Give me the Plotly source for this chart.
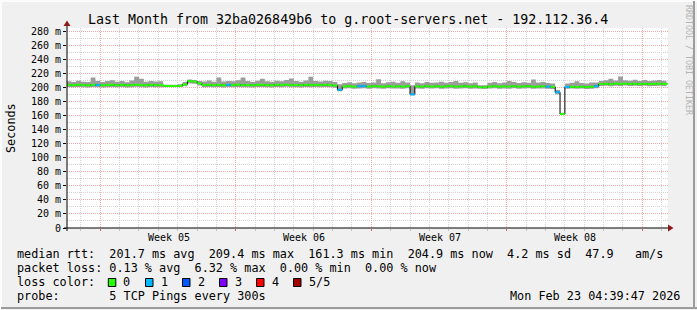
import plotly.graph_objects as go
import pandas as pd

# ---------------- data ----------------
TITLE = "Last Month from 32ba026849b6 to g.root-servers.net - 192.112.36.4"
START_TIME = "2026-01-23 06:00"
STEP_HOURS = 6
X_RANGE = ["2026-01-23 06:45", "2026-02-23 07:51"]

week_bounds = ["2026-01-25", "2026-02-01", "2026-02-08", "2026-02-15", "2026-02-22"]
week_labels = ["Week 05", "Week 06", "Week 07", "Week 08"]
week_label_at = ["2026-01-28 13:00", "2026-02-04 13:00", "2026-02-11 13:00", "2026-02-18 13:00"]

y_tick_vals = [0, 20, 40, 60, 80, 100, 120, 140, 160, 180, 200, 220, 240, 260, 280]
y_tick_text = ["0", "20 m", "40 m", "60 m", "80 m", "100 m", "120 m", "140 m", "160 m",
               "180 m", "200 m", "220 m", "240 m", "260 m", "280 m"]

median_ms = [
    203.4, 203.0, 203.6, 203.1, 202.8, 203.5, 203.2, 202.9, 203.3, 203.6,
    203.0, 203.4, 202.8, 203.1, 203.7, 203.2, 202.9, 203.5, 203.0, 203.3,
    202.0, 201.8, 201.9, 202.1, 204.0, 208.8, 208.2, 205.5,
    203.2, 203.6, 203.0, 203.4, 202.9, 203.5, 203.1, 203.7, 203.0, 203.3,
    202.8, 203.4, 203.6, 203.1, 202.9, 203.5, 203.2, 203.8, 203.0, 203.3,
    202.9, 203.6, 203.1, 203.4, 203.0, 203.5, 203.2,
    202.5, 196.5,
    201.2, 201.6, 201.0, 201.4, 201.8, 201.1, 201.5, 201.3, 200.9, 201.6,
    201.2, 201.4, 201.0, 201.5,
    190.0,
    201.3, 201.0, 201.6, 201.2, 201.5, 200.9, 201.4, 201.7, 201.1, 201.3,
    201.6, 201.0, 201.4,
    200.2, 200.0,
    201.2, 201.5, 200.9, 201.4, 201.1, 201.6, 201.0, 201.3, 201.5, 200.8,
    201.2, 201.4, 201.0, 200.6,
    193.0, 162.0,
    200.4, 200.8, 200.5, 200.9, 200.3, 200.7, 201.5,
    204.6, 205.0, 204.4, 205.2, 204.8, 205.3, 204.6, 205.0, 204.7, 205.1,
    204.5, 204.9, 205.2, 204.7, 204.9,
]

smoke_high = [
    208.5, 207.6, 209.2, 208.0, 207.4, 214.0, 208.8, 207.5, 209.0, 210.2,
    207.8, 208.9, 207.3, 209.5, 215.0, 212.0, 207.9, 209.1, 208.2, 208.7,
    203.8, 203.5, 203.6, 204.2, 207.5, 211.0, 210.5, 209.0,
    208.4, 209.6, 207.9, 214.0, 208.2, 209.0, 208.6, 210.1, 214.0, 208.8,
    207.7, 209.3, 212.0, 208.5, 208.0, 209.4, 208.7, 210.3, 212.5, 208.9,
    207.8, 209.6, 215.0, 209.1, 208.3, 209.4, 208.8,
    207.5, 204.5,
    206.0, 207.2, 205.8, 206.9, 207.5, 206.1, 206.8, 211.5, 205.9, 207.3,
    208.0, 206.6, 208.5, 206.9,
    203.0,
    206.8, 205.9, 207.4, 206.3, 207.0, 207.8, 206.5, 207.6, 209.0, 206.4,
    207.3, 205.8, 206.9,
    203.0, 202.8,
    206.5, 207.4, 205.9, 207.0, 209.0, 207.6, 206.2, 207.1, 206.4, 211.0,
    206.9, 207.5, 206.0, 205.5,
    196.0, 164.0,
    205.5, 206.6, 208.5, 206.0, 205.4, 206.8, 207.0,
    209.0, 210.2, 212.0, 209.5, 215.5, 210.0, 209.3, 210.6, 209.1, 210.4,
    209.0, 209.8, 210.5, 209.2, 209.7,
]

smoke_low = [
    200.3, 199.9, 200.5, 200.1, 199.7, 200.4, 200.1, 199.8, 200.2, 200.6,
    199.9, 200.3, 199.7, 200.0, 200.7, 200.1, 199.8, 200.4, 199.9, 200.2,
    200.8, 200.5, 200.6, 200.9, 201.5, 205.5, 205.0, 202.5,
    200.1, 200.5, 199.9, 200.3, 199.8, 200.4, 200.0, 200.6, 199.9, 200.2,
    199.7, 200.3, 200.5, 200.0, 199.8, 200.4, 200.1, 200.7, 199.9, 200.2,
    199.8, 200.5, 200.0, 200.3, 199.9, 200.4, 200.1,
    199.5, 194.5,
    198.2, 198.6, 198.0, 198.4, 198.8, 198.1, 198.5, 198.3, 197.9, 198.6,
    198.2, 198.4, 198.0, 198.5,
    188.5,
    198.3, 198.0, 198.6, 198.2, 198.5, 197.9, 198.4, 198.7, 198.1, 198.3,
    198.6, 198.0, 198.4,
    197.8, 197.6,
    198.2, 198.5, 197.9, 198.4, 198.1, 198.6, 198.0, 198.3, 198.5, 197.8,
    198.2, 198.4, 198.0, 197.6,
    190.0, 161.3,
    197.8, 198.2, 197.9, 198.3, 197.7, 198.1, 198.8,
    201.8, 202.1, 201.5, 202.3, 201.9, 202.4, 201.7, 202.1, 201.8, 202.2,
    201.6, 202.0, 202.3, 201.8, 202.0,
]

# pings lost out of 5 for each step
loss_count = [0] * len(median_ms)
for idx in [6, 33, 56, 60, 61, 71, 99, 101, 103, 109]:
    loss_count[idx] = 1

loss_labels = ["0", "1", "2", "3", "4", "5/5"]
loss_colors = ["#26ff00", "#00b8ff", "#0059ff", "#7e00ff", "#ff0000", "#a10000"]

stats_lines = [
    "median rtt:  201.7 ms avg  209.4 ms max  161.3 ms min  204.9 ms now  4.2 ms sd  47.9   am/s",
    "packet loss: 0.13 % avg  6.32 % max  0.00 % min  0.00 % now",
    "loss color:",
    "probe:       5 TCP Pings every 300s",
]
timestamp = "Mon Feb 23 04:39:47 2026"

# ---------------- layout helpers ----------------
W, H = 697, 310
PL, PR, PT, PB = 67, 668, 28, 228  # plot area pixel box


def px(x):
    return (x - PL) / (PR - PL)


def py(y):
    return (PB - y) / (PB - PT)


MONO = "DejaVu Sans Mono"
TXT = 11.8

times = pd.date_range(START_TIME, periods=len(median_ms), freq=f"{STEP_HOURS}h")
step = pd.Timedelta(hours=STEP_HOURS)

fig = go.Figure()

# smoke band
fig.add_trace(go.Scatter(x=times, y=smoke_low, mode="lines", line=dict(width=0, shape="hv"),
                         hoverinfo="skip"))
fig.add_trace(go.Scatter(x=times, y=smoke_high, mode="lines", line=dict(width=0, shape="hv"),
                         fill="tonexty", fillcolor="#9c9c9c", hoverinfo="skip"))

# black median connector
fig.add_trace(go.Scatter(x=times, y=median_ms, mode="lines",
                         line=dict(width=1, color="#000000", shape="hv"), hoverinfo="skip"))

# coloured median segments by loss
for lvl, col in enumerate(loss_colors):
    xs, ys = [], []
    for t, m, l in zip(times, median_ms, loss_count):
        if l == lvl:
            xs += [t, t + step, None]
            ys += [m, m, None]
    if xs:
        fig.add_trace(go.Scatter(x=xs, y=ys, mode="lines", line=dict(width=2, color=col),
                                 hoverinfo="skip"))

RED_GRID = "#f4a8a8"
GRAY_GRID = "#d4d4d4"

fig.update_layout(
    width=W, height=H,
    margin=dict(l=PL, r=W - PR, t=PT, b=H - PB, pad=0),
    paper_bgcolor="#f0f0f0", plot_bgcolor="#ffffff",
    showlegend=False,
    xaxis=dict(
        type="date", range=X_RANGE, tickvals=week_bounds, showticklabels=False,
        showgrid=True, gridcolor=RED_GRID, griddash="1px,1px", gridwidth=1,
        ticks="outside", ticklen=2, tickcolor="#e06060",
        minor=dict(dtick=86400000, tick0="2026-01-25", showgrid=True, gridcolor=GRAY_GRID,
                   griddash="1px,1px", ticks="outside", ticklen=2, tickcolor="#c0c0c0"),
        zeroline=False, showline=False, fixedrange=True,
    ),
    yaxis=dict(
        range=[0, 284.3], tickvals=y_tick_vals, ticktext=y_tick_text,
        showgrid=True, gridcolor=RED_GRID, griddash="1px,1px", gridwidth=1,
        ticks="outside", ticklen=3, tickcolor="#000000",
        tickfont=dict(family=MONO, size=10, color="#000000"),
        minor=dict(dtick=10, showgrid=True, gridcolor=GRAY_GRID, griddash="1px,1px"),
        zeroline=False, showline=False, fixedrange=True,
    ),
)

shapes = []
# axes
shapes.append(dict(type="line", xref="paper", yref="paper", x0=px(64), x1=px(669),
                   y0=py(228), y1=py(228), line=dict(color="#000000", width=1)))
shapes.append(dict(type="line", xref="paper", yref="paper", x0=px(67), x1=px(67),
                   y0=py(231), y1=py(24), line=dict(color="#000000", width=1)))
# arrows
shapes.append(dict(type="path", xref="paper", yref="paper",
                   path=f"M {px(668)} {py(224.5)} L {px(673.5)} {py(228)} L {px(668)} {py(231.5)} Z",
                   fillcolor="#8b1a1a", line=dict(width=0)))
shapes.append(dict(type="path", xref="paper", yref="paper",
                   path=f"M {px(63.5)} {py(26)} L {px(67)} {py(20.5)} L {px(70.5)} {py(26)} Z",
                   fillcolor="#8b1a1a", line=dict(width=0)))
# frame shading
shapes.append(dict(type="line", xref="paper", yref="paper", x0=px(0), x1=px(697),
                   y0=py(1), y1=py(1), line=dict(color="#fcfcfc", width=2)))
shapes.append(dict(type="line", xref="paper", yref="paper", x0=px(1), x1=px(1),
                   y0=py(0), y1=py(310), line=dict(color="#fcfcfc", width=2)))
shapes.append(dict(type="line", xref="paper", yref="paper", x0=px(1), x1=px(697),
                   y0=py(308), y1=py(308), line=dict(color="#9c9c9c", width=2)))
shapes.append(dict(type="line", xref="paper", yref="paper", x0=px(694), x1=px(694),
                   y0=py(1), y1=py(309), line=dict(color="#9c9c9c", width=2)))

annotations = []
annotations.append(dict(text=TITLE, xref="paper", yref="paper", x=px(347.5), y=py(19),
                        xanchor="center", yanchor="middle", showarrow=False,
                        font=dict(family=MONO, size=13.3, color="#000000")))
annotations.append(dict(text="Seconds", xref="paper", yref="paper", x=px(11), y=py(128),
                        xanchor="center", yanchor="middle", textangle=-90, showarrow=False,
                        font=dict(family=MONO, size=TXT, color="#000000")))
annotations.append(dict(text="RRDTOOL / TOBI OETIKER", xref="paper", yref="paper",
                        x=px(689), y=py(60), xanchor="center", yanchor="middle",
                        textangle=90, showarrow=False,
                        font=dict(family=MONO, size=8.3, color="#b4b4b4")))
for lab, pos in zip(week_labels, week_label_at):
    annotations.append(dict(text=lab, xref="x", yref="paper", x=pos, y=py(237.7),
                            xanchor="center", yanchor="middle", showarrow=False,
                            font=dict(family=MONO, size=10, color="#000000")))

line_y = [254.3, 268.3, 282.3, 296.3]
for txt, yy in zip(stats_lines, line_y):
    annotations.append(dict(text=txt.replace(" ", "\u00a0"), xref="paper", yref="paper",
                            x=px(14.5), y=py(yy), xanchor="left", yanchor="middle",
                            showarrow=False, font=dict(family=MONO, size=TXT, color="#000000")))
annotations.append(dict(text=timestamp.replace(" ", "\u00a0"), xref="paper", yref="paper",
                        x=px(681.5), y=py(296.3), xanchor="right", yanchor="middle",
                        showarrow=False, font=dict(family=MONO, size=TXT, color="#000000")))

# loss colour legend swatches
sw_x = [108.3, 145.5, 182.5, 219.5, 256.5, 293.5]
for sx, lab, col in zip(sw_x, loss_labels, loss_colors):
    shapes.append(dict(type="rect", xref="paper", yref="paper",
                       x0=px(sx), x1=px(sx + 7.5), y0=py(278.5), y1=py(286.5),
                       fillcolor=col, line=dict(color="#000000", width=1)))
    annotations.append(dict(text=lab, xref="paper", yref="paper", x=px(sx + 13), y=py(282.3),
                            xanchor="left", yanchor="middle", showarrow=False,
                            font=dict(family=MONO, size=TXT, color="#000000")))

fig.update_layout(shapes=shapes, annotations=annotations)
fig.write_html("out.html")
